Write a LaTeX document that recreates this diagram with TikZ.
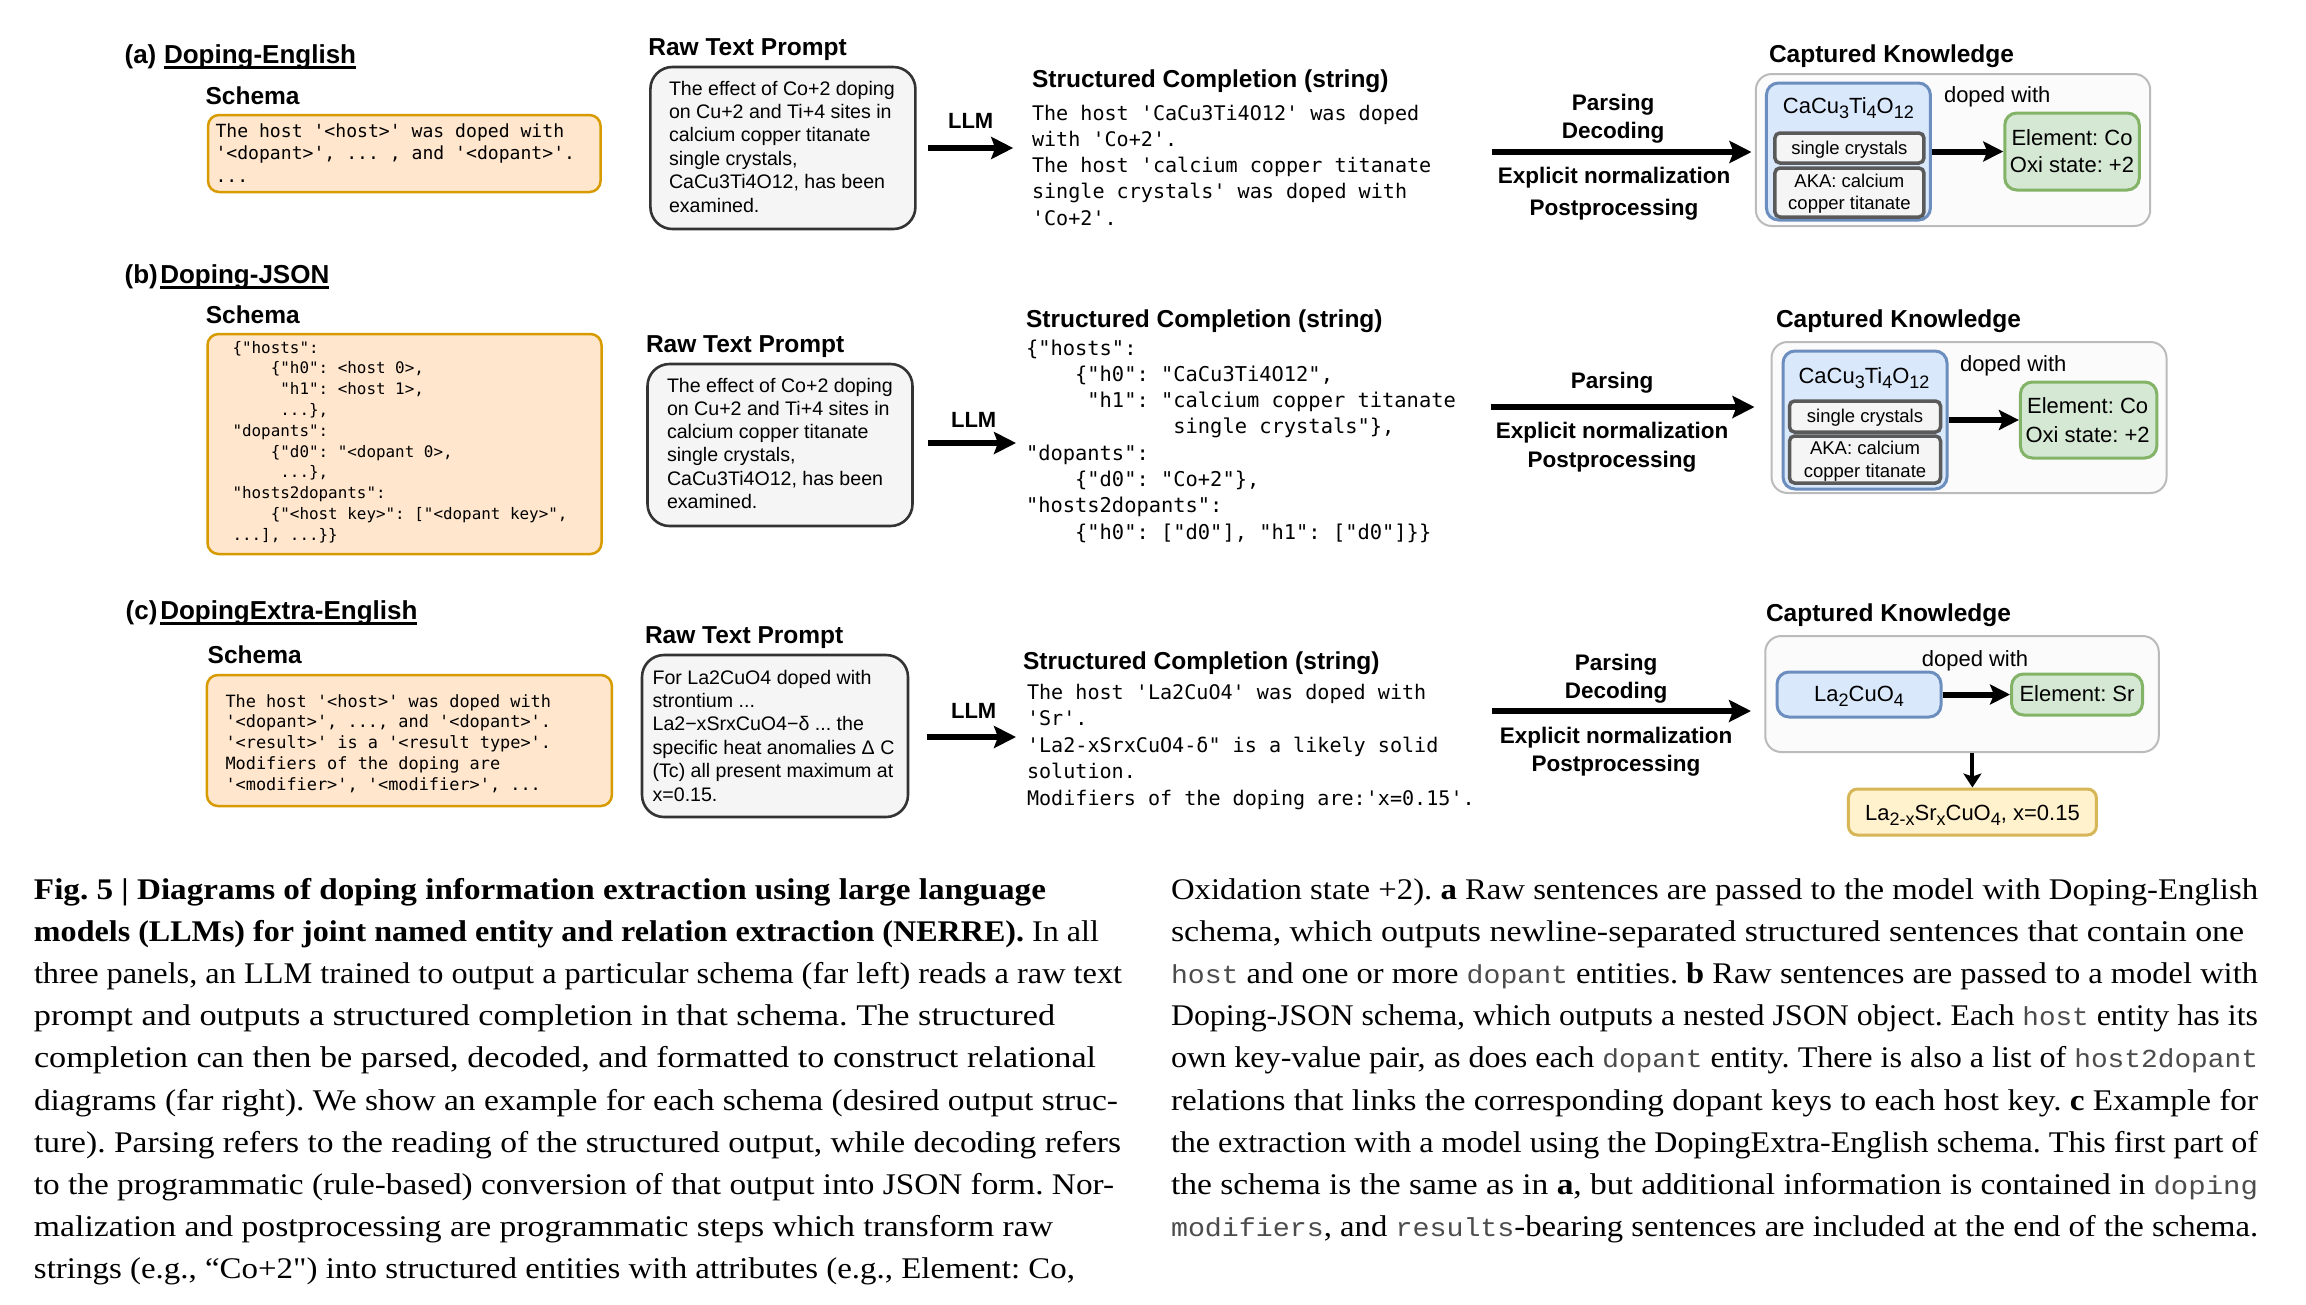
\documentclass[tikz,border=0pt]{standalone}
\usepackage{fontspec}
\usepackage{graphicx}
\setmainfont{Liberation Serif}
\setmonofont{DejaVu Sans Mono}
\newfontfamily\dsans{Liberation Sans}
\newfontfamily\cmono{Liberation Mono}
\usetikzlibrary{arrows.meta}
\frenchspacing
\definecolor{orB}{HTML}{D79B00}\definecolor{orF}{HTML}{FFE6CC}
\definecolor{rawB}{HTML}{333333}\definecolor{rawF}{HTML}{F5F5F5}
\definecolor{ckB}{HTML}{BBBBBB}\definecolor{ckF}{HTML}{FBFBFB}
\definecolor{blB}{HTML}{6C8EBF}\definecolor{blF}{HTML}{DAE8FC}
\definecolor{gyB}{HTML}{5A5A5A}\definecolor{gyF}{HTML}{F5F5F5}
\definecolor{grB}{HTML}{82B366}\definecolor{grF}{HTML}{D5E8D4}
\definecolor{ylB}{HTML}{D6B656}\definecolor{ylF}{HTML}{FFF2CC}
\newcommand\setfs[1]{\fontsize{#1}{#1}\selectfont}
\newcommand\vlines[2]{\vtop{\baselineskip=#1\lineskiplimit=-100pt\lineskip=0pt #2}}
\newcommand\sbs[1]{\raisebox{-0.25em}{\scalebox{0.82}{#1}}}
\newcommand\cm[1]{{\cmono\setfs{26}\color{black!70}#1}}
\tikzset{
  txt/.style={inner sep=0pt, outer sep=0pt},
  ptl/.style={txt, anchor=base west, font=\dsans\bfseries\setfs{26}},
  ttl/.style={txt, anchor=base west, font=\dsans\bfseries\setfs{24.5}},
  lbl/.style={txt, anchor=base, font=\dsans\bfseries\setfs{22.5}},
  rawtxt/.style={txt, anchor=base west, font=\dsans\setfs{19.6}},
  ktxt/.style={txt, anchor=base, font=\dsans\setfs{22}},
  stxt/.style={txt, anchor=base, font=\dsans\setfs{18.5}},
  mono/.style={txt, anchor=base west},
  capl/.style={txt, anchor=base west, font=\setfs{30}},
  uline/.style={line width=2.4pt},
  schemabox/.style={draw=orB, fill=orF, line width=2.5pt, rounded corners=11pt, inner sep=0pt},
  rawbox/.style={draw=rawB, fill=rawF, line width=2.6pt, rounded corners=22pt, inner sep=0pt},
  ckbox/.style={draw=ckB, fill=ckF, line width=2pt, rounded corners=16pt, inner sep=0pt},
  hostbox/.style={draw=blB, fill=blF, line width=3pt, rounded corners=12pt, inner sep=0pt},
  attrbox/.style={draw=gyB, fill=gyF, line width=3.5pt, rounded corners=5pt, inner sep=0pt},
  dopbox/.style={draw=grB, fill=grF, line width=3pt, rounded corners=12pt, inner sep=0pt},
  resbox/.style={draw=ylB, fill=ylF, line width=3pt, rounded corners=9pt, inner sep=0pt},
  bigarrow/.style={line width=6pt, -{Stealth[length=22pt,width=22pt,inset=4pt]}},
  midarrow/.style={line width=6pt, -{Stealth[length=20pt,width=20pt,inset=4pt]}},
  downarrow/.style={line width=4pt, -{Stealth[length=14pt,width=18pt,inset=3pt]}}
}
\begin{document}
\begin{tikzpicture}[x=1pt,y=-1pt]
\fill[white] (0,0) rectangle (2306,1304);
\path[use as bounding box] (0,0) rectangle (2306,1304);

% ================= Panel (a) =================
\node[ptl] (la) at (124.6,63) {(a)};
\node[ptl] (na) at (164,63) {Doping-English};
\draw[uline] ([yshift=-4.5pt]na.base west) -- ([yshift=-4.5pt]na.base east);
\node[ttl] (sha) at (205.6,104) {Schema};
\node[schemabox, minimum width=392.5pt, minimum height=77pt] (sa) at (404.3,153.5) {};
\node[mono, font=\ttfamily\setfs{18.1}] (sat) at (215.5,137) {\vlines{22.5pt}{%
\hbox{The host '<host>' was doped with}%
\hbox{'<dopant>', ... , and '<dopant>'.}%
\hbox{...}}};

\node[ttl] (rta) at (648.4,55) {Raw Text Prompt};
\node[rawbox, minimum width=265pt, minimum height=162pt] (ra) at (782.9,148) {};
\node[rawtxt] (rat) at (669,95) {\vlines{23.4pt}{%
\hbox{The effect of Co+2 doping}%
\hbox{on Cu+2 and Ti+4 sites in}%
\hbox{calcium copper titanate}%
\hbox{single crystals,}%
\hbox{CaCu3Ti4O12, has been}%
\hbox{examined.}}};

\node[lbl, font=\dsans\bfseries\setfs{22}] (llma) at (970.7,128) {LLM};
\coordinate (a1s) at (928.2,148);
\coordinate (a1e) at (1013.2,148);
\draw[bigarrow] (a1s) -- (a1e);

\node[ttl] (sca) at (1032,87) {Structured Completion (string)};
\node[mono, font=\ttfamily\setfs{20.1}] (scat) at (1032,120) {\vlines{26.3pt}{%
\hbox{The host 'CaCu3Ti4O12' was doped}%
\hbox{with 'Co+2'.}%
\hbox{The host 'calcium copper titanate}%
\hbox{single crystals' was doped with}%
\hbox{'Co+2'.}}};

\node[lbl] (pa1) at (1613,110) {Parsing};
\node[lbl] (pa2) at (1613,138) {Decoding};
\coordinate (a2s) at (1491.5,152);
\coordinate (a2e) at (1751.5,152);
\draw[bigarrow] (a2s) -- (a2e);
\node[lbl] (pa3) at (1614,183) {Explicit normalization};
\node[lbl] (pa4) at (1614,215) {Postprocessing};

\node[ttl] (cka) at (1769,62) {Captured Knowledge};
\node[ckbox, minimum width=394.4pt, minimum height=152pt] (ka) at (1953,150) {};
\node[hostbox, minimum width=164pt, minimum height=137pt] (hosta) at (1848.4,151.5) {};
\node[ktxt] (hosta1) at (1848.4,113) {CaCu\sbs{3}Ti\sbs{4}O\sbs{12}};
\node[attrbox, minimum width=149pt, minimum height=30pt] (sca1) at (1849.4,148) {};
\node[stxt] (sca1t) at (1849.4,154) {single crystals};
\node[attrbox, minimum width=149pt, minimum height=49pt] (aka) at (1849.4,192.5) {};
\node[stxt] (aka1) at (1849.4,187) {AKA: calcium};
\node[stxt] (aka2) at (1849.4,209) {copper titanate};
\node[ktxt, anchor=base west] (dwa) at (1944,102) {doped with};
\node[dopbox, minimum width=134.5pt, minimum height=77pt] (dopa) at (2072,151.5) {};
\node[ktxt] (dopa1) at (2072,145) {Element: Co};
\node[ktxt] (dopa2) at (2072,172) {Oxi state: +2};
\draw[midarrow] (hosta.east) -- (dopa.west);

% ================= Panel (b) =================
\node[ptl] (lb) at (124.7,283) {(b)};
\node[ptl] (nb) at (160.3,283) {Doping-JSON};
\draw[uline] ([yshift=-4.5pt]nb.base west) -- ([yshift=-4.5pt]nb.base east);
\node[ttl] (shb) at (205.8,323) {Schema};
\node[schemabox, minimum width=394pt, minimum height=220pt] (sb) at (404.5,444) {};
\node[mono, font=\ttfamily\setfs{15.9}] (sbt) at (232.5,353) {\vlines{20.8pt}{%
\hbox{\{"hosts":}%
\hbox{\phantom{0000}\{"h0": <host 0>,}%
\hbox{\phantom{00000}"h1": <host 1>,}%
\hbox{\phantom{00000}...\},}%
\hbox{"dopants":}%
\hbox{\phantom{0000}\{"d0": "<dopant 0>,}%
\hbox{\phantom{00000}...\},}%
\hbox{"hosts2dopants":}%
\hbox{\phantom{0000}\{"<host key>": ["<dopant key>",}%
\hbox{...], ...\}\}}}};

\node[ttl] (rtb) at (646,352) {Raw Text Prompt};
\node[rawbox, minimum width=265pt, minimum height=162pt] (rb) at (780,445) {};
\node[rawtxt] (rbt) at (667,392) {\vlines{23.3pt}{%
\hbox{The effect of Co+2 doping}%
\hbox{on Cu+2 and Ti+4 sites in}%
\hbox{calcium copper titanate}%
\hbox{single crystals,}%
\hbox{CaCu3Ti4O12, has been}%
\hbox{examined.}}};

\node[lbl, font=\dsans\bfseries\setfs{22}] (llmb) at (973.7,427) {LLM};
\coordinate (b1s) at (928,443);
\coordinate (b1e) at (1016,443);
\draw[bigarrow] (b1s) -- (b1e);

\node[ttl] (scb) at (1026,327) {Structured Completion (string)};
\node[mono, font=\ttfamily\setfs{20.4}] (scbt) at (1026,355) {\vlines{26.3pt}{%
\hbox{\{"hosts":}%
\hbox{\phantom{0000}\{"h0": "CaCu3Ti4O12",}%
\hbox{\phantom{00000}"h1": "calcium copper titanate}%
\hbox{\phantom{000000000000}single crystals"\},}%
\hbox{"dopants":}%
\hbox{\phantom{0000}\{"d0": "Co+2"\},}%
\hbox{"hosts2dopants":}%
\hbox{\phantom{0000}\{"h0": ["d0"], "h1": ["d0"]\}\}}}};

\node[lbl] (pb1) at (1612,388) {Parsing};
\coordinate (b2s) at (1490.7,407);
\coordinate (b2e) at (1754.5,407);
\draw[bigarrow] (b2s) -- (b2e);
\node[lbl] (pb3) at (1612,438) {Explicit normalization};
\node[lbl] (pb4) at (1612,467) {Postprocessing};

\node[ttl] (ckb) at (1776,327) {Captured Knowledge};
\node[ckbox, minimum width=395pt, minimum height=151pt] (kb) at (1969,417.5) {};
\node[hostbox, minimum width=164pt, minimum height=138pt] (hostb) at (1865,420) {};
\node[ktxt] (hostb1) at (1864,383) {CaCu\sbs{3}Ti\sbs{4}O\sbs{12}};
\node[attrbox, minimum width=151pt, minimum height=31pt] (scb1) at (1865,416.5) {};
\node[stxt] (scb1t) at (1865,422) {single crystals};
\node[attrbox, minimum width=151pt, minimum height=47pt] (akb) at (1865,459.5) {};
\node[stxt] (akb1) at (1865,454) {AKA: calcium};
\node[stxt] (akb2) at (1865,477) {copper titanate};
\node[ktxt, anchor=base west] (dwb) at (1960,371) {doped with};
\node[dopbox, minimum width=136.4pt, minimum height=76pt] (dopb) at (2088.6,420) {};
\node[ktxt] (dopb1) at (2087.6,413) {Element: Co};
\node[ktxt] (dopb2) at (2087.6,442) {Oxi state: +2};
\draw[midarrow] (hostb.east) -- (dopb.west);

% ================= Panel (c) =================
\node[ptl] (lc) at (125.7,619) {(c)};
\node[ptl] (nc) at (160.3,619) {DopingExtra-English};
\draw[uline] ([yshift=-4.5pt]nc.base west) -- ([yshift=-4.5pt]nc.base east);
\node[ttl] (shc) at (207.7,663) {Schema};
\node[schemabox, minimum width=405pt, minimum height=131pt] (sc) at (409.4,740.5) {};
\node[mono, font=\ttfamily\setfs{16.9}] (sct) at (225.5,707) {\vlines{20.8pt}{%
\hbox{The host '<host>' was doped with}%
\hbox{'<dopant>', ..., and '<dopant>'.}%
\hbox{'<result>' is a '<result type>'.}%
\hbox{Modifiers of the doping are}%
\hbox{'<modifier>', '<modifier>', ...}}};

\node[ttl] (rtc) at (645,643) {Raw Text Prompt};
\node[rawbox, minimum width=266pt, minimum height=162pt] (rc) at (775,736) {};
\node[rawtxt] (rct) at (652.6,684) {\vlines{23.4pt}{%
\hbox{For La2CuO4 doped with}%
\hbox{strontium ...}%
\hbox{La2−xSrxCuO4−δ ... the}%
\hbox{specific heat anomalies Δ C}%
\hbox{(Tc) all present maximum at}%
\hbox{x=0.15.}}};

\node[lbl, font=\dsans\bfseries\setfs{22}] (llmc) at (973.7,718) {LLM};
\coordinate (c1s) at (926.7,737);
\coordinate (c1e) at (1016,737);
\draw[bigarrow] (c1s) -- (c1e);

\node[ttl] (scc) at (1023,669) {Structured Completion (string)};
\node[mono, font=\ttfamily\setfs{20.1}] (scct) at (1027,699) {\vlines{26.5pt}{%
\hbox{The host 'La2CuO4' was doped with}%
\hbox{'Sr'.}%
\hbox{'La2-xSrxCuO4-δ" is a likely solid}%
\hbox{solution.}%
\hbox{Modifiers of the doping are:'x=0.15'.}}};

\node[lbl] (pc1) at (1616,670) {Parsing};
\node[lbl] (pc2) at (1616,698) {Decoding};
\coordinate (c2s) at (1492,711);
\coordinate (c2e) at (1751,711);
\draw[bigarrow] (c2s) -- (c2e);
\node[lbl] (pc3) at (1616,743) {Explicit normalization};
\node[lbl] (pc4) at (1616,771) {Postprocessing};

\node[ttl] (ckc) at (1766,621) {Captured Knowledge};
\node[ckbox, minimum width=393.5pt, minimum height=116pt] (kc) at (1962,694) {};
\node[ktxt] (dwc) at (1975,666) {doped with};
\node[hostbox, minimum width=164pt, minimum height=45pt] (hostc) at (1859,694.5) {};
\node[ktxt] (hostc1) at (1859,701) {La\sbs{2}CuO\sbs{4}};
\node[dopbox, minimum width=131pt, minimum height=41pt] (dopc) at (2077,694.5) {};
\node[ktxt] (dopc1) at (2077,701) {Element: Sr};
\draw[midarrow] (hostc.east) -- (dopc.west);
\node[resbox, minimum width=248pt, minimum height=46pt] (resc) at (1972.4,812) {};
\node[ktxt] (resc1) at (1972.4,820) {La\sbs{2-x}Sr\sbs{x}CuO\sbs{4}, x=0.15};
\draw[downarrow] (resc.north |- kc.south) -- (resc.north);

% ================= Caption =================
\node[capl] (cap1) at (34,899) {\resizebox{1012pt}{\height}{\bfseries Fig. 5 | Diagrams of doping information extraction using large language}};
\node[capl] (cap2) at (34,941.2) {\resizebox{1065pt}{\height}{\textbf{models (LLMs) for joint named entity and relation extraction (NERRE).} In all}};
\node[capl] (cap3) at (34,983.4) {\resizebox{1088pt}{\height}{three panels, an LLM trained to output a particular schema (far left) reads a raw text}};
\node[capl] (cap4) at (34,1025.6) {\resizebox{1021pt}{\height}{prompt and outputs a structured completion in that schema. The structured}};
\node[capl] (cap5) at (34,1067.8) {\resizebox{1062pt}{\height}{completion can then be parsed, decoded, and formatted to construct relational}};
\node[capl] (cap6) at (34,1110) {\resizebox{1084pt}{\height}{diagrams (far right). We show an example for each schema (desired output struc-}};
\node[capl] (cap7) at (34,1152.2) {\resizebox{1087pt}{\height}{ture). Parsing refers to the reading of the structured output, while decoding refers}};
\node[capl] (cap8) at (34,1194.4) {\resizebox{1080pt}{\height}{to the programmatic (rule-based) conversion of that output into JSON form. Nor-}};
\node[capl] (cap9) at (34,1236.6) {\resizebox{1019pt}{\height}{malization and postprocessing are programmatic steps which transform raw}};
\node[capl] (cap10) at (34,1278.8) {\resizebox{1041pt}{\height}{strings (e.g., “Co+2\textquotedbl) into structured entities with attributes (e.g., Element: Co,}};

\node[capl] (cap11) at (1171,899) {\resizebox{1087pt}{\height}{Oxidation state +2). \textbf{a} Raw sentences are passed to the model with Doping-English}};
\node[capl] (cap12) at (1171,941.2) {\resizebox{1073pt}{\height}{schema, which outputs newline-separated structured sentences that contain one}};
\node[capl] (cap13) at (1171,983.4) {\resizebox{1087pt}{\height}{\cm{host} and one or more \cm{dopant} entities. \textbf{b} Raw sentences are passed to a model with}};
\node[capl] (cap14) at (1171,1025.6) {\resizebox{1087pt}{\height}{Doping-JSON schema, which outputs a nested JSON object. Each \cm{host} entity has its}};
\node[capl] (cap15) at (1171,1067.8) {\resizebox{1087pt}{\height}{own key-value pair, as does each \cm{dopant} entity. There is also a list of \cm{host2dopant}}};
\node[capl] (cap16) at (1171,1110) {\resizebox{1087pt}{\height}{relations that links the corresponding dopant keys to each host key. \textbf{c} Example for}};
\node[capl] (cap17) at (1171,1152.2) {\resizebox{1087pt}{\height}{the extraction with a model using the DopingExtra-English schema. This first part of}};
\node[capl] (cap18) at (1171,1194.4) {\resizebox{1087pt}{\height}{the schema is the same as in \textbf{a}, but additional information is contained in \cm{doping}}};
\node[capl] (cap19) at (1171,1236.6) {\resizebox{1087pt}{\height}{\cm{modifiers}, and \cm{results}-bearing sentences are included at the end of the schema.}};
\end{tikzpicture}
\end{document}
